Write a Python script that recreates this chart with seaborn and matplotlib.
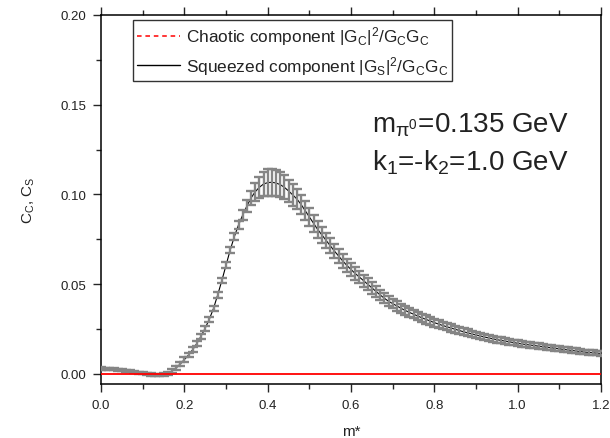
import numpy as np
import pandas as pd
import matplotlib
matplotlib.use("Agg")
import matplotlib.pyplot as plt
from matplotlib.lines import Line2D
from matplotlib.ticker import MultipleLocator
import seaborn as sns

# m* grid, step 0.01 from 0.00 to 1.20
m_star = [round(0.01 * i, 2) for i in range(121)]

# Squeezed component |G_s|^2 / G_c G_c
squeezed = [
    0.0030, 0.0029, 0.0028, 0.0026, 0.0024, 0.0021, 0.0018, 0.0015, 0.0011, 0.0007,
    0.0003, 0.0000, -0.0003, -0.0005, -0.0005, -0.0003, 0.0004, 0.0016, 0.0033, 0.0055,
    0.0080, 0.0105, 0.0135, 0.0170, 0.0210, 0.0255, 0.0305, 0.0365, 0.0440, 0.0520,
    0.0605, 0.0690, 0.0765, 0.0830, 0.0885, 0.0935, 0.0980, 0.1015, 0.1040, 0.1058,
    0.1066, 0.1068, 0.1064, 0.1055, 0.1040, 0.1020, 0.0998, 0.0975, 0.0945, 0.0910,
    0.0875, 0.0840, 0.0805, 0.0775, 0.0745, 0.0715, 0.0685, 0.0658, 0.0630, 0.0605,
    0.0582, 0.0560, 0.0540, 0.0520, 0.0500, 0.0480, 0.0460, 0.0440, 0.0422, 0.0405,
    0.0392, 0.0379, 0.0366, 0.0354, 0.0343, 0.0333, 0.0323, 0.0313, 0.0304, 0.0295,
    0.0286, 0.0278, 0.0270, 0.0263, 0.0256, 0.0249, 0.0242, 0.0235, 0.0229, 0.0223,
    0.0217, 0.0212, 0.0206, 0.0201, 0.0196, 0.0191, 0.0187, 0.0183, 0.0179, 0.0175,
    0.0171, 0.0167, 0.0164, 0.0161, 0.0158, 0.0155, 0.0152, 0.0149, 0.0146, 0.0143,
    0.0140, 0.0137, 0.0134, 0.0131, 0.0128, 0.0125, 0.0122, 0.0120, 0.0118, 0.0116,
    0.0114,
]

# Half-width of the error bars on the squeezed component
squeezed_err = [
    0.0006, 0.0006, 0.0006, 0.0006, 0.0006, 0.0006, 0.0006, 0.0006, 0.0006, 0.0006,
    0.0006, 0.0006, 0.0006, 0.0006, 0.0006, 0.0007, 0.0009, 0.0010, 0.0011, 0.0012,
    0.0012, 0.0013, 0.0013, 0.0013, 0.0014, 0.0014, 0.0014, 0.0015, 0.0015, 0.0016,
    0.0017, 0.0018, 0.0020, 0.0023, 0.0027, 0.0032, 0.0040, 0.0050, 0.0060, 0.0068,
    0.0074, 0.0075, 0.0074, 0.0071, 0.0067, 0.0063, 0.0060, 0.0057, 0.0054, 0.0052,
    0.0050, 0.0048, 0.0046, 0.0044, 0.0043, 0.0042, 0.0041, 0.0040, 0.0039, 0.0038,
    0.0037, 0.0036, 0.0035, 0.0034, 0.0033, 0.0032, 0.0031, 0.0030, 0.0029, 0.0028,
    0.0027, 0.0026, 0.0026, 0.0025, 0.0025, 0.0024, 0.0024, 0.0023, 0.0023, 0.0022,
    0.0022, 0.0021, 0.0021, 0.0020, 0.0020, 0.0020, 0.0019, 0.0019, 0.0019, 0.0018,
    0.0018, 0.0018, 0.0018, 0.0017, 0.0017, 0.0017, 0.0017, 0.0016, 0.0016, 0.0016,
    0.0016, 0.0016, 0.0015, 0.0015, 0.0015, 0.0015, 0.0015, 0.0015, 0.0014, 0.0014,
    0.0014, 0.0014, 0.0014, 0.0014, 0.0014, 0.0013, 0.0013, 0.0013, 0.0013, 0.0013,
    0.0013,
]

# Chaotic component |G_c|^2 / G_c G_c stays at zero
chaotic = [0.0] * len(m_star)

x_ticks = [0.0, 0.2, 0.4, 0.6, 0.8, 1.0, 1.2]
y_ticks = [0.00, 0.05, 0.10, 0.15, 0.20]

df = pd.DataFrame({"m": m_star, "squeezed": squeezed,
                   "err": squeezed_err, "chaotic": chaotic})

sns.set_style("ticks")
plt.rcParams["font.family"] = ["Liberation Sans", "DejaVu Sans"]
plt.rcParams["mathtext.fontset"] = "custom"
plt.rcParams["mathtext.rm"] = "Liberation Sans"
plt.rcParams["mathtext.it"] = "Liberation Sans"
plt.rcParams["mathtext.default"] = "regular"

text_color = "#222222"

fig = plt.figure(figsize=(6.10, 4.39), dpi=100)
ax = fig.add_axes([101 / 610, 1 - 385 / 439, 500 / 610, 369 / 439])

# black curve underneath, grey error bars on top of it
sns.lineplot(data=df, x="m", y="squeezed", ax=ax, color="black",
             linewidth=0.8, zorder=2, legend=False)
ax.errorbar(df["m"], df["squeezed"], yerr=df["err"], fmt="none",
            ecolor="#858585", elinewidth=1.7, capsize=3.8, capthick=1.7,
            zorder=3)
sns.lineplot(data=df, x="m", y="chaotic", ax=ax, color="red",
             linewidth=1.3, zorder=4, legend=False)

ax.set_xlim(0.0, 1.2)
ax.set_ylim(-0.0056, 0.20)
ax.set_xticks(x_ticks)
ax.set_xticklabels([f"{v:.1f}" for v in x_ticks])
ax.set_yticks(y_ticks)
ax.set_yticklabels([f"{v:.2f}" for v in y_ticks])
ax.xaxis.set_minor_locator(MultipleLocator(0.1))
ax.yaxis.set_minor_locator(MultipleLocator(0.025))

for side in ["left", "bottom", "top", "right"]:
    ax.spines[side].set_visible(True)
    ax.spines[side].set_linewidth(1.1)
    ax.spines[side].set_color("black")

ax.tick_params(axis="both", which="major", direction="out", length=6,
               width=1.0, labelsize=9.5, labelcolor=text_color, pad=4.5)
ax.tick_params(axis="both", which="minor", direction="out", length=3.5,
               width=1.0)
ax.tick_params(axis="x", which="both", top=True, labeltop=False)
ax.tick_params(axis="y", which="both", right=False)

ax.set_xlabel("m*", fontsize=11, color=text_color, labelpad=10)
ax.set_ylabel("C$_C$, C$_S$", fontsize=11, color=text_color, labelpad=17)

handles = [
    Line2D([], [], color="red", linestyle=(0, (3, 2.5)), linewidth=1.1),
    Line2D([], [], color="black", linestyle="-", linewidth=1.0),
]
labels = [
    "Chaotic component $|G_C|^2/G_CG_C$",
    "Squeezed component $|G_S|^2/G_CG_C$",
]
leg = ax.legend(handles, labels, loc="upper left",
                bbox_to_anchor=(32 / 500, 1 - 5 / 369), frameon=True,
                fancybox=False, edgecolor="black", fontsize=12.4,
                handlelength=2.5, handletextpad=0.3, borderpad=0.25,
                labelspacing=0.4, borderaxespad=0)
leg.get_frame().set_linewidth(1.0)
for t in leg.get_texts():
    t.set_color(text_color)

ax.text(0.650, 0.1393, r"m$_{\pi^0}$=0.135 GeV", fontsize=20,
        color=text_color, va="center", ha="left")
ax.text(0.650, 0.1180, r"k$_1$=-k$_2$=1.0 GeV", fontsize=20,
        color=text_color, va="center", ha="left")

fig.savefig("out.png", dpi=100)
